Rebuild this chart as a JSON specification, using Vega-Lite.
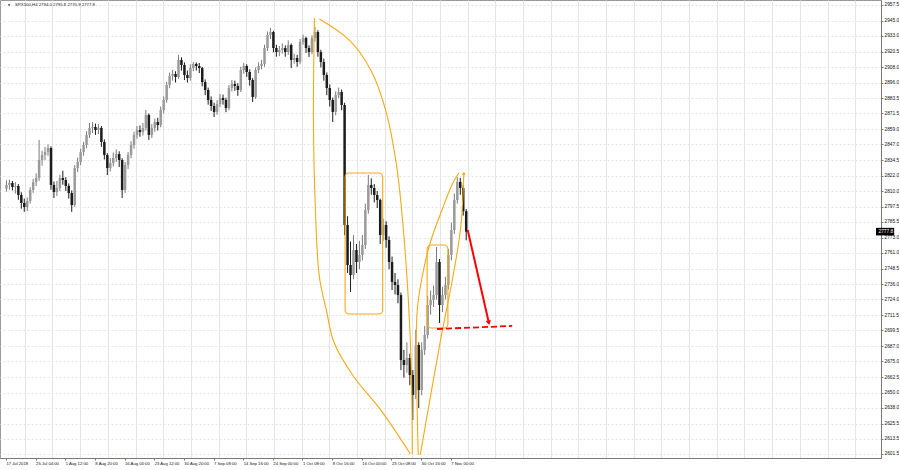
{
"$schema":"https://vega.github.io/schema/vega-lite/v6.json",
"width":881,"height":458,"padding":0,"autosize":{"type":"pad"},
"background":"white",
"config":{"view":{"stroke":"#9a9a9a","strokeWidth":1}},
"datasets":{
"bars":[
{"i":0,"o":2812.0,"h":2818.5,"l":2809.5,"c":2814.8},
{"i":1,"o":2814.8,"h":2819.0,"l":2811.0,"c":2816.4},
{"i":2,"o":2816.4,"h":2818.0,"l":2810.5,"c":2813.2},
{"i":3,"o":2813.2,"h":2817.0,"l":2808.0,"c":2814.0},
{"i":4,"o":2814.0,"h":2815.5,"l":2803.0,"c":2806.9},
{"i":5,"o":2806.9,"h":2809.0,"l":2796.0,"c":2800.5},
{"i":6,"o":2800.5,"h":2804.0,"l":2793.5,"c":2797.3},
{"i":7,"o":2797.3,"h":2805.0,"l":2794.0,"c":2802.1},
{"i":8,"o":2802.1,"h":2813.0,"l":2800.0,"c":2810.8},
{"i":9,"o":2810.8,"h":2819.5,"l":2808.5,"c":2817.2},
{"i":10,"o":2817.2,"h":2824.0,"l":2814.0,"c":2820.3},
{"i":11,"o":2820.3,"h":2850.5,"l":2818.0,"c":2834.6},
{"i":12,"o":2834.6,"h":2842.0,"l":2830.0,"c":2838.6},
{"i":13,"o":2838.6,"h":2845.0,"l":2834.5,"c":2841.0},
{"i":14,"o":2841.0,"h":2847.0,"l":2838.0,"c":2844.1},
{"i":15,"o":2844.1,"h":2845.5,"l":2811.0,"c":2814.8},
{"i":16,"o":2814.8,"h":2817.5,"l":2804.5,"c":2809.2},
{"i":17,"o":2809.2,"h":2818.0,"l":2806.0,"c":2812.4},
{"i":18,"o":2812.4,"h":2823.0,"l":2810.0,"c":2820.3},
{"i":19,"o":2820.3,"h":2826.0,"l":2815.0,"c":2818.7},
{"i":20,"o":2818.7,"h":2821.0,"l":2810.0,"c":2814.0},
{"i":21,"o":2814.0,"h":2816.0,"l":2804.0,"c":2808.4},
{"i":22,"o":2808.4,"h":2810.5,"l":2793.5,"c":2798.9},
{"i":23,"o":2798.9,"h":2830.5,"l":2797.5,"c":2828.2},
{"i":24,"o":2828.2,"h":2836.5,"l":2825.0,"c":2833.0},
{"i":25,"o":2833.0,"h":2843.5,"l":2830.5,"c":2841.0},
{"i":26,"o":2841.0,"h":2849.0,"l":2838.0,"c":2846.5},
{"i":27,"o":2846.5,"h":2857.5,"l":2844.0,"c":2854.4},
{"i":28,"o":2854.4,"h":2864.0,"l":2852.0,"c":2860.0},
{"i":29,"o":2860.0,"h":2864.7,"l":2856.0,"c":2860.8},
{"i":30,"o":2860.8,"h":2863.5,"l":2854.5,"c":2858.4},
{"i":31,"o":2858.4,"h":2863.0,"l":2855.0,"c":2860.0},
{"i":32,"o":2860.0,"h":2861.5,"l":2845.0,"c":2848.9},
{"i":33,"o":2848.9,"h":2851.0,"l":2835.0,"c":2838.6},
{"i":34,"o":2838.6,"h":2840.0,"l":2822.7,"c":2828.2},
{"i":35,"o":2828.2,"h":2836.0,"l":2825.5,"c":2832.2},
{"i":36,"o":2832.2,"h":2840.5,"l":2829.5,"c":2836.2},
{"i":37,"o":2836.2,"h":2843.0,"l":2833.0,"c":2839.3},
{"i":38,"o":2839.3,"h":2841.5,"l":2829.0,"c":2834.6},
{"i":39,"o":2834.6,"h":2836.0,"l":2804.5,"c":2810.8},
{"i":40,"o":2810.8,"h":2833.0,"l":2808.5,"c":2830.6},
{"i":41,"o":2830.6,"h":2841.0,"l":2827.5,"c":2838.6},
{"i":42,"o":2838.6,"h":2849.5,"l":2836.0,"c":2846.5},
{"i":43,"o":2846.5,"h":2857.0,"l":2843.5,"c":2854.4},
{"i":44,"o":2854.4,"h":2861.5,"l":2851.5,"c":2858.4},
{"i":45,"o":2858.4,"h":2862.0,"l":2853.0,"c":2856.8},
{"i":46,"o":2856.8,"h":2864.0,"l":2854.0,"c":2860.0},
{"i":47,"o":2860.0,"h":2874.3,"l":2858.0,"c":2870.3},
{"i":48,"o":2870.3,"h":2871.5,"l":2850.5,"c":2854.4},
{"i":49,"o":2854.4,"h":2863.0,"l":2852.0,"c":2860.0},
{"i":50,"o":2860.0,"h":2867.5,"l":2857.0,"c":2864.7},
{"i":51,"o":2864.7,"h":2868.0,"l":2858.0,"c":2862.3},
{"i":52,"o":2862.3,"h":2877.0,"l":2860.5,"c":2874.2},
{"i":53,"o":2874.2,"h":2885.0,"l":2871.5,"c":2882.2},
{"i":54,"o":2882.2,"h":2896.5,"l":2880.0,"c":2894.1},
{"i":55,"o":2894.1,"h":2904.0,"l":2891.5,"c":2901.2},
{"i":56,"o":2901.2,"h":2906.0,"l":2897.5,"c":2902.8},
{"i":57,"o":2902.8,"h":2905.0,"l":2896.0,"c":2900.4},
{"i":58,"o":2900.4,"h":2917.9,"l":2899.0,"c":2913.9},
{"i":59,"o":2913.9,"h":2916.0,"l":2905.5,"c":2909.9},
{"i":60,"o":2909.9,"h":2912.0,"l":2898.0,"c":2902.0},
{"i":61,"o":2902.0,"h":2905.5,"l":2896.0,"c":2899.6},
{"i":62,"o":2899.6,"h":2910.5,"l":2897.5,"c":2907.5},
{"i":63,"o":2907.5,"h":2912.3,"l":2905.0,"c":2910.7},
{"i":64,"o":2910.7,"h":2912.0,"l":2905.5,"c":2909.1},
{"i":65,"o":2909.1,"h":2911.5,"l":2903.5,"c":2907.5},
{"i":66,"o":2907.5,"h":2908.5,"l":2893.0,"c":2896.4},
{"i":67,"o":2896.4,"h":2898.5,"l":2886.0,"c":2890.1},
{"i":68,"o":2890.1,"h":2892.0,"l":2878.5,"c":2882.2},
{"i":69,"o":2882.2,"h":2885.0,"l":2873.5,"c":2877.4},
{"i":70,"o":2877.4,"h":2880.0,"l":2868.7,"c":2872.7},
{"i":71,"o":2872.7,"h":2882.0,"l":2870.5,"c":2879.0},
{"i":72,"o":2879.0,"h":2887.0,"l":2876.5,"c":2883.8},
{"i":73,"o":2883.8,"h":2886.5,"l":2878.5,"c":2882.2},
{"i":74,"o":2882.2,"h":2884.0,"l":2872.5,"c":2875.8},
{"i":75,"o":2875.8,"h":2894.0,"l":2874.0,"c":2891.7},
{"i":76,"o":2891.7,"h":2898.0,"l":2889.0,"c":2894.9},
{"i":77,"o":2894.9,"h":2897.5,"l":2889.5,"c":2893.3},
{"i":78,"o":2893.3,"h":2895.5,"l":2885.5,"c":2890.1},
{"i":79,"o":2890.1,"h":2908.5,"l":2888.5,"c":2906.0},
{"i":80,"o":2906.0,"h":2911.5,"l":2903.0,"c":2909.1},
{"i":81,"o":2909.1,"h":2910.5,"l":2900.5,"c":2904.4},
{"i":82,"o":2904.4,"h":2906.5,"l":2893.5,"c":2898.0},
{"i":83,"o":2898.0,"h":2899.5,"l":2880.6,"c":2884.6},
{"i":84,"o":2884.6,"h":2908.0,"l":2883.0,"c":2906.0},
{"i":85,"o":2906.0,"h":2912.0,"l":2903.5,"c":2909.1},
{"i":86,"o":2909.1,"h":2914.0,"l":2906.5,"c":2910.7},
{"i":87,"o":2910.7,"h":2926.0,"l":2908.5,"c":2923.4},
{"i":88,"o":2923.4,"h":2936.5,"l":2921.0,"c":2933.7},
{"i":89,"o":2933.7,"h":2939.3,"l":2930.5,"c":2936.1},
{"i":90,"o":2936.1,"h":2937.0,"l":2920.0,"c":2923.4},
{"i":91,"o":2923.4,"h":2926.0,"l":2916.5,"c":2920.2},
{"i":92,"o":2920.2,"h":2925.0,"l":2917.0,"c":2921.8},
{"i":93,"o":2921.8,"h":2927.0,"l":2919.0,"c":2923.4},
{"i":94,"o":2923.4,"h":2925.5,"l":2916.5,"c":2920.2},
{"i":95,"o":2920.2,"h":2929.5,"l":2918.0,"c":2925.8},
{"i":96,"o":2925.8,"h":2927.0,"l":2907.5,"c":2913.9},
{"i":97,"o":2913.9,"h":2919.0,"l":2911.0,"c":2915.5},
{"i":98,"o":2915.5,"h":2918.0,"l":2908.5,"c":2912.3},
{"i":99,"o":2912.3,"h":2930.5,"l":2910.5,"c":2928.2},
{"i":100,"o":2928.2,"h":2934.0,"l":2926.0,"c":2931.3},
{"i":101,"o":2931.3,"h":2932.5,"l":2919.5,"c":2923.4},
{"i":102,"o":2923.4,"h":2925.5,"l":2916.3,"c":2920.2},
{"i":103,"o":2920.2,"h":2933.5,"l":2918.5,"c":2931.3},
{"i":104,"o":2931.3,"h":2940.1,"l":2928.5,"c":2936.1},
{"i":105,"o":2936.1,"h":2937.5,"l":2916.5,"c":2920.2},
{"i":106,"o":2920.2,"h":2922.0,"l":2908.0,"c":2912.3},
{"i":107,"o":2912.3,"h":2915.0,"l":2897.5,"c":2902.0},
{"i":108,"o":2902.0,"h":2904.0,"l":2886.0,"c":2891.7},
{"i":109,"o":2891.7,"h":2894.5,"l":2877.0,"c":2882.2},
{"i":110,"o":2882.2,"h":2884.0,"l":2864.7,"c":2872.7},
{"i":111,"o":2872.7,"h":2889.0,"l":2870.0,"c":2886.1},
{"i":112,"o":2886.1,"h":2892.0,"l":2883.5,"c":2888.5},
{"i":113,"o":2888.5,"h":2890.5,"l":2874.0,"c":2878.2},
{"i":114,"o":2878.2,"h":2880.0,"l":2775.0,"c":2783.1},
{"i":115,"o":2783.1,"h":2790.0,"l":2745.0,"c":2751.3},
{"i":116,"o":2751.3,"h":2770.0,"l":2730.0,"c":2743.4},
{"i":117,"o":2743.4,"h":2775.0,"l":2740.0,"c":2763.2},
{"i":118,"o":2763.2,"h":2768.0,"l":2745.0,"c":2753.7},
{"i":119,"o":2753.7,"h":2770.5,"l":2748.0,"c":2759.3},
{"i":120,"o":2759.3,"h":2775.0,"l":2755.0,"c":2767.2},
{"i":121,"o":2767.2,"h":2800.0,"l":2764.0,"c":2795.0},
{"i":122,"o":2795.0,"h":2822.7,"l":2792.0,"c":2814.8},
{"i":123,"o":2814.8,"h":2820.0,"l":2807.0,"c":2812.4},
{"i":124,"o":2812.4,"h":2815.5,"l":2801.0,"c":2806.9},
{"i":125,"o":2806.9,"h":2810.0,"l":2796.5,"c":2802.9},
{"i":126,"o":2802.9,"h":2804.0,"l":2768.0,"c":2775.1},
{"i":127,"o":2775.1,"h":2788.0,"l":2770.5,"c":2783.1},
{"i":128,"o":2783.1,"h":2786.0,"l":2765.0,"c":2771.2},
{"i":129,"o":2771.2,"h":2774.0,"l":2748.0,"c":2753.7},
{"i":130,"o":2753.7,"h":2758.0,"l":2731.5,"c":2737.9},
{"i":131,"o":2737.9,"h":2745.0,"l":2728.0,"c":2735.5},
{"i":132,"o":2735.5,"h":2740.0,"l":2721.0,"c":2727.5},
{"i":133,"o":2727.5,"h":2729.5,"l":2668.0,"c":2676.0},
{"i":134,"o":2676.0,"h":2684.0,"l":2662.0,"c":2672.0},
{"i":135,"o":2672.0,"h":2690.0,"l":2666.0,"c":2677.6},
{"i":136,"o":2677.6,"h":2681.0,"l":2656.0,"c":2664.1},
{"i":137,"o":2664.1,"h":2668.0,"l":2628.4,"c":2648.3},
{"i":138,"o":2648.3,"h":2700.0,"l":2645.0,"c":2687.9},
{"i":139,"o":2687.9,"h":2690.0,"l":2637.9,"c":2652.2},
{"i":140,"o":2652.2,"h":2690.0,"l":2648.0,"c":2684.0},
{"i":141,"o":2684.0,"h":2703.0,"l":2680.0,"c":2695.8},
{"i":142,"o":2695.8,"h":2727.0,"l":2693.0,"c":2719.6},
{"i":143,"o":2719.6,"h":2731.0,"l":2712.0,"c":2723.6},
{"i":144,"o":2723.6,"h":2735.0,"l":2718.0,"c":2727.5},
{"i":145,"o":2727.5,"h":2765.6,"l":2724.0,"c":2753.7},
{"i":146,"o":2753.7,"h":2756.0,"l":2705.4,"c":2719.6},
{"i":147,"o":2719.6,"h":2734.0,"l":2714.0,"c":2727.5},
{"i":148,"o":2727.5,"h":2742.0,"l":2724.0,"c":2735.5},
{"i":149,"o":2735.5,"h":2764.0,"l":2732.0,"c":2759.3},
{"i":150,"o":2759.3,"h":2785.0,"l":2755.0,"c":2779.1},
{"i":151,"o":2779.1,"h":2808.0,"l":2776.0,"c":2802.9},
{"i":152,"o":2802.9,"h":2821.1,"l":2800.0,"c":2817.2},
{"i":153,"o":2817.2,"h":2820.5,"l":2807.0,"c":2812.4},
{"i":154,"o":2812.4,"h":2815.0,"l":2790.5,"c":2794.0},
{"i":155,"o":2794.0,"h":2795.8,"l":2770.9,"c":2777.8}
],
"curves":[
{"g":"L1a","k":0,"u":103.83,"p":2947.2},
{"g":"L1a","k":1,"u":103.5,"p":2866.0},
{"g":"L1a","k":2,"u":104.17,"p":2795.0},
{"g":"L1a","k":3,"u":105.5,"p":2741.8},
{"g":"L1a","k":4,"u":107.83,"p":2715.7},
{"g":"L1a","k":5,"u":110.5,"p":2689.5},
{"g":"L1a","k":6,"u":117.17,"p":2662.5},
{"g":"L1a","k":7,"u":126.17,"p":2636.4},
{"g":"L1a","k":8,"u":136.17,"p":2601.5},
{"g":"L1b","k":0,"u":105.5,"p":2946.4},
{"g":"L1b","k":1,"u":115.5,"p":2929.8},
{"g":"L1b","k":2,"u":122.83,"p":2906.0},
{"g":"L1b","k":3,"u":127.83,"p":2874.2},
{"g":"L1b","k":4,"u":131.5,"p":2830.6},
{"g":"L1b","k":5,"u":133.83,"p":2779.1},
{"g":"L1b","k":6,"u":135.5,"p":2723.6},
{"g":"L1b","k":7,"u":136.5,"p":2668.1},
{"g":"L1b","k":8,"u":136.83,"p":2601.5},
{"g":"L2a","k":0,"u":138.83,"p":2600.7},
{"g":"L2a","k":1,"u":138.17,"p":2689.5},
{"g":"L2a","k":2,"u":138.5,"p":2715.7},
{"g":"L2a","k":3,"u":140.17,"p":2742.2},
{"g":"L2a","k":4,"u":142.83,"p":2768.8},
{"g":"L2a","k":5,"u":146.83,"p":2795.0},
{"g":"L2a","k":6,"u":150.5,"p":2816.4},
{"g":"L2a","k":7,"u":152.5,"p":2824.3},
{"g":"L2b","k":0,"u":139.5,"p":2600.7},
{"g":"L2b","k":1,"u":146.17,"p":2689.5},
{"g":"L2b","k":2,"u":150.5,"p":2741.8},
{"g":"L2b","k":3,"u":153.17,"p":2781.5},
{"g":"L2b","k":4,"u":154.17,"p":2822.7}
],
"boxes":[
{"u1":114.17,"u2":126.83,"p1":2824.3,"p2":2712.5},
{"u1":141.83,"u2":148.83,"p1":2767.2,"p2":2701.4}
],
"redline":[{"k":0,"u":145.17,"p":2700.6},{"k":1,"u":170.5,"p":2703.0}],
"arrow":[{"k":0,"u":155.5,"p":2779.1},{"k":1,"u":162.5,"p":2707.0}]
},
"layer":[
{
"data":{"name":"bars"},
"mark":{"type":"rule","strokeWidth":1},
"encoding":{
"x":{"field":"i","type":"quantitative","scale":{"domain":[-0.5,293.17],"nice":false,"zero":false},
"axis":{"orient":"top","grid":true,"gridColor":"#e4e4e4","gridWidth":1,"labels":false,"ticks":false,"domain":false,"title":null,
"values":[6.17,15.5,24.83,34.17,43.5,52.83,62.17,71.5,80.83,90.17,99.5,108.83,118.17,127.5,136.83,146.17,155.5,164.83,174.17,183.5,192.83,202.17,211.5,220.83,230.17,239.5,248.83,258.17,267.5,276.83,286.17]}},
"y":{"field":"l","type":"quantitative","scale":{"domain":[2598.3,2961.46],"nice":false,"zero":false},
"axis":{"orient":"right","title":null,"grid":true,"gridColor":"#e4e4e4","gridDash":[2,2],"domain":true,"domainColor":"#7a7a7a","ticks":true,"tickSize":2,"tickColor":"#7a7a7a","labelPadding":1,"labelFont":"Liberation Sans","labelFontSize":4.8,"labelColor":"#111","labelOverlap":false,"labelFlush":false,"labelBaseline":"middle","format":".1f",
"values":[2601.5,2613.5,2625.5,2638.0,2650.0,2662.5,2675.0,2687.0,2699.5,2711.5,2724.0,2736.0,2748.5,2761.0,2773.0,2785.5,2797.5,2810.0,2822.0,2834.5,2847.0,2859.0,2871.5,2883.5,2896.0,2908.0,2920.5,2933.0,2945.0,2957.5]}},
"y2":{"field":"h"},
"color":{"condition":{"test":"datum.c < datum.o","value":"#1c1c1c"},"value":"#7a7a7a"}
}
},
{
"data":{"name":"bars"},
"mark":{"type":"bar","width":2.5},
"encoding":{
"x":{"field":"i","type":"quantitative","scale":{"domain":[-0.5,293.17],"nice":false,"zero":false},
"axis":{"orient":"bottom","grid":false,"title":null,"domain":true,"domainColor":"#7a7a7a","ticks":true,"tickSize":2,"tickColor":"#7a7a7a","labelPadding":1,"labelAlign":"left","labelFont":"Liberation Sans","labelFontSize":4.2,"labelColor":"#111","labelOverlap":false,"labelFlush":false,
"values":[-0.2,9.8,19.8,29.8,39.8,49.8,59.8,69.8,79.8,89.8,99.8,109.8,119.8,129.8,139.8,149.8],
"labelExpr":"['17 Jul 2018','25 Jul 04:00','1 Aug 12:00','8 Aug 20:00','16 Aug 04:00','23 Aug 12:00','30 Aug 20:00','7 Sep 08:00','14 Sep 16:00','24 Sep 00:00','1 Oct 08:00','8 Oct 16:00','16 Oct 00:00','23 Oct 08:00','30 Oct 16:00','7 Nov 00:00'][round((datum.value+0.2)/10)]"}},
"y":{"field":"o","type":"quantitative","scale":{"domain":[2598.3,2961.46],"nice":false,"zero":false},"axis":null},
"y2":{"field":"c"},
"color":{"condition":{"test":"datum.c < datum.o","value":"#1c1c1c"},"value":"#9a9a9a"}
}
},
{
"data":{"name":"curves"},
"mark":{"type":"line","interpolate":"catmull-rom","strokeWidth":1.1,"color":"#F7A814"},
"encoding":{
"x":{"field":"u","type":"quantitative","scale":{"domain":[-0.5,293.17],"nice":false,"zero":false},"axis":null},
"y":{"field":"p","type":"quantitative","scale":{"domain":[2598.3,2961.46],"nice":false,"zero":false},"axis":null},
"detail":{"field":"g"},
"order":{"field":"k","type":"quantitative"}
}
},
{
"data":{"name":"boxes"},
"mark":{"type":"rect","filled":false,"stroke":"#F7A814","strokeWidth":1.1,"cornerRadius":4},
"encoding":{
"x":{"field":"u1","type":"quantitative","scale":{"domain":[-0.5,293.17],"nice":false,"zero":false},"axis":null},
"x2":{"field":"u2"},
"y":{"field":"p1","type":"quantitative","scale":{"domain":[2598.3,2961.46],"nice":false,"zero":false},"axis":null},
"y2":{"field":"p2"}
}
},
{
"data":{"values":[{}]},
"mark":{"type":"point","shape":"triangle-up","filled":true,"size":14,"color":"#F7A814","opacity":1},
"encoding":{
"x":{"datum":154.2,"type":"quantitative","scale":{"domain":[-0.5,293.17],"nice":false,"zero":false},"axis":null},
"y":{"datum":2824.0,"type":"quantitative","scale":{"domain":[2598.3,2961.46],"nice":false,"zero":false},"axis":null}
}
},
{
"data":{"name":"redline"},
"mark":{"type":"line","color":"#FF0000","strokeWidth":1.8,"strokeDash":[6,3]},
"encoding":{
"x":{"field":"u","type":"quantitative","scale":{"domain":[-0.5,293.17],"nice":false,"zero":false},"axis":null},
"y":{"field":"p","type":"quantitative","scale":{"domain":[2598.3,2961.46],"nice":false,"zero":false},"axis":null},
"order":{"field":"k","type":"quantitative"}
}
},
{
"data":{"name":"arrow"},
"mark":{"type":"line","color":"#FF0000","strokeWidth":2},
"encoding":{
"x":{"field":"u","type":"quantitative","scale":{"domain":[-0.5,293.17],"nice":false,"zero":false},"axis":null},
"y":{"field":"p","type":"quantitative","scale":{"domain":[2598.3,2961.46],"nice":false,"zero":false},"axis":null},
"order":{"field":"k","type":"quantitative"}
}
},
{
"data":{"values":[{}]},
"mark":{"type":"point","shape":"triangle-down","filled":true,"size":30,"color":"#FF0000","opacity":1,"angle":347},
"encoding":{
"x":{"datum":162.6,"type":"quantitative","scale":{"domain":[-0.5,293.17],"nice":false,"zero":false},"axis":null},
"y":{"datum":2705.5,"type":"quantitative","scale":{"domain":[2598.3,2961.46],"nice":false,"zero":false},"axis":null}
}
},
{
"data":{"values":[{}]},
"mark":{"type":"rect","color":"#000000"},
"encoding":{
"x":{"datum":293.17,"type":"quantitative","scale":{"domain":[-0.5,293.17],"nice":false,"zero":false},"axis":null},
"x2":{"datum":299.3},
"y":{"datum":2774.8,"type":"quantitative","scale":{"domain":[2598.3,2961.46],"nice":false,"zero":false},"axis":null},
"y2":{"datum":2780.8}
}
},
{
"data":{"values":[{}]},
"mark":{"type":"text","text":"2777.8","color":"#ffffff","font":"Liberation Sans","fontSize":4.8,"align":"left","baseline":"middle"},
"encoding":{
"x":{"datum":294.0,"type":"quantitative","scale":{"domain":[-0.5,293.17],"nice":false,"zero":false},"axis":null},
"y":{"datum":2777.8,"type":"quantitative","scale":{"domain":[2598.3,2961.46],"nice":false,"zero":false},"axis":null}
}
},
{
"data":{"values":[{}]},
"mark":{"type":"point","shape":"triangle-down","filled":true,"size":6,"color":"#333333","opacity":1},
"encoding":{
"x":{"datum":0.9,"type":"quantitative","scale":{"domain":[-0.5,293.17],"nice":false,"zero":false},"axis":null},
"y":{"datum":2957.3,"type":"quantitative","scale":{"domain":[2598.3,2961.46],"nice":false,"zero":false},"axis":null}
}
},
{
"data":{"values":[{}]},
"mark":{"type":"text","text":"SPX500,H4  2794.0 2795.8 2770.9 2777.8","color":"#222222","font":"Liberation Sans","fontSize":4.3,"align":"left","baseline":"middle"},
"encoding":{
"x":{"datum":2.9,"type":"quantitative","scale":{"domain":[-0.5,293.17],"nice":false,"zero":false},"axis":null},
"y":{"datum":2957.3,"type":"quantitative","scale":{"domain":[2598.3,2961.46],"nice":false,"zero":false},"axis":null}
}
}
],
"resolve":{"axis":{"x":"independent","y":"independent"}}
}
